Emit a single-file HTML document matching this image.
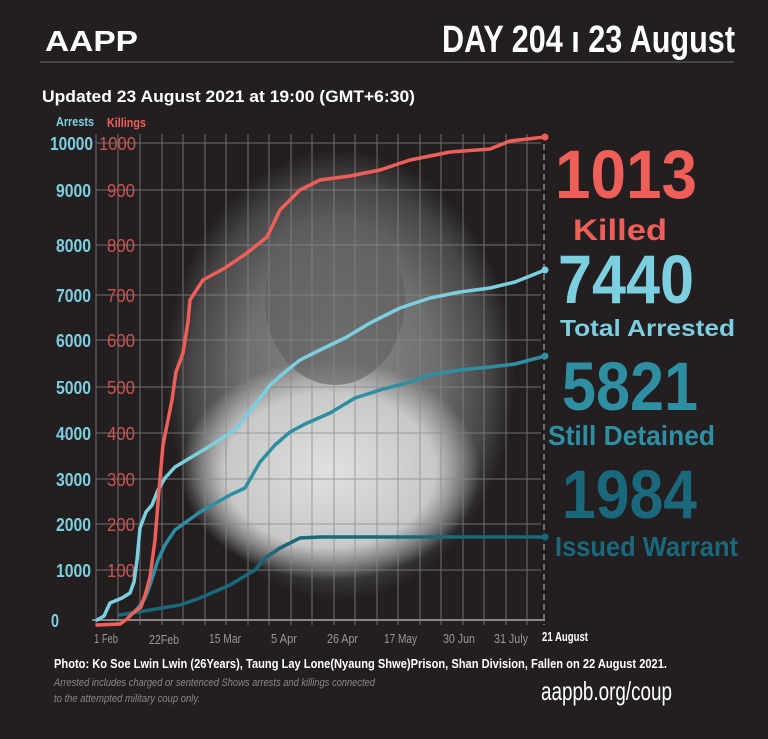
<!DOCTYPE html>
<html><head><meta charset="utf-8"><style>
html,body{margin:0;padding:0;background:#231f20;}
svg{display:block}
</style></head><body>
<svg width="768" height="739" viewBox="0 0 768 739" xmlns="http://www.w3.org/2000/svg" font-family="Liberation Sans, sans-serif">
<defs>
<radialGradient id="ph" cx="340" cy="375" r="1" gradientUnits="userSpaceOnUse" gradientTransform="translate(340 375) scale(175 225) translate(-340 -375)">
<stop offset="0" stop-color="#8a8a8a"/>
<stop offset="0.55" stop-color="#6f6f6f"/>
<stop offset="0.85" stop-color="#474545"/>
<stop offset="1" stop-color="#231f20"/>
</radialGradient>
<radialGradient id="sh" cx="330" cy="470" r="1" gradientUnits="userSpaceOnUse" gradientTransform="translate(330 470) scale(150 110) translate(-330 -470)">
<stop offset="0" stop-color="#e0e0e0"/>
<stop offset="0.7" stop-color="#c8c8c8"/>
<stop offset="1" stop-color="#c8c8c8" stop-opacity="0"/>
</radialGradient>
</defs>
<rect width="768" height="739" fill="#231f20"/>
<ellipse cx="340" cy="375" rx="175" ry="225" fill="url(#ph)"/>
<ellipse cx="330" cy="470" rx="150" ry="110" fill="url(#sh)"/>
<ellipse cx="335" cy="300" rx="70" ry="85" fill="#5e5e5e" opacity="0.6"/>
<!-- header -->
<text x="45" y="51" font-weight="bold" font-size="29" fill="#fff" textLength="93" lengthAdjust="spacingAndGlyphs">AAPP</text>
<text x="442" y="52" font-weight="bold" font-size="38" fill="#fff" textLength="293" lengthAdjust="spacingAndGlyphs">DAY 204 ı 23 August</text>
<line x1="40" y1="62" x2="734" y2="62" stroke="#6d6a6b" stroke-width="1"/>
<text x="42" y="102" font-weight="bold" font-size="17" fill="#fff" textLength="373" lengthAdjust="spacingAndGlyphs">Updated 23 August 2021 at 19:00 (GMT+6:30)</text>
<text x="56" y="126" font-weight="bold" font-size="13" fill="#7ccfdf" textLength="38" lengthAdjust="spacingAndGlyphs">Arrests</text>
<text x="107" y="127" font-weight="bold" font-size="13" fill="#ee5f5a" textLength="39" lengthAdjust="spacingAndGlyphs">Killings</text>
<!-- grid -->
<g stroke="#8a8788" stroke-width="1" opacity="0.75">
<line x1="96" y1="134" x2="96" y2="625"/><line x1="118" y1="134" x2="118" y2="625"/><line x1="140" y1="134" x2="140" y2="625"/><line x1="162" y1="134" x2="162" y2="625"/><line x1="183" y1="134" x2="183" y2="625"/><line x1="205" y1="134" x2="205" y2="625"/><line x1="226" y1="134" x2="226" y2="625"/><line x1="248" y1="134" x2="248" y2="625"/><line x1="269" y1="134" x2="269" y2="625"/><line x1="291" y1="134" x2="291" y2="625"/><line x1="312" y1="134" x2="312" y2="625"/><line x1="334" y1="134" x2="334" y2="625"/><line x1="355" y1="134" x2="355" y2="625"/><line x1="377" y1="134" x2="377" y2="625"/><line x1="398" y1="134" x2="398" y2="625"/><line x1="420" y1="134" x2="420" y2="625"/><line x1="441" y1="134" x2="441" y2="625"/><line x1="463" y1="134" x2="463" y2="625"/><line x1="484" y1="134" x2="484" y2="625"/><line x1="506" y1="134" x2="506" y2="625"/><line x1="527" y1="134" x2="527" y2="625"/>
<line x1="96" y1="143" x2="541" y2="143"/><line x1="96" y1="190" x2="541" y2="190"/><line x1="96" y1="245" x2="541" y2="245"/><line x1="96" y1="295" x2="541" y2="295"/><line x1="96" y1="340" x2="541" y2="340"/><line x1="96" y1="387" x2="541" y2="387"/><line x1="96" y1="433" x2="541" y2="433"/><line x1="96" y1="479" x2="541" y2="479"/><line x1="96" y1="524" x2="541" y2="524"/><line x1="96" y1="570" x2="541" y2="570"/>
</g>
<line x1="92" y1="620" x2="545" y2="620" stroke="#8a8788" stroke-width="2"/>
<line x1="544" y1="134" x2="544" y2="625" stroke="#8a8788" stroke-width="1.5" stroke-dasharray="6 4"/>
<!-- y labels -->
<g font-weight="bold" font-size="18" fill="#7ccfdf" lengthAdjust="spacingAndGlyphs">
<text x="50" y="150" textLength="43" lengthAdjust="spacingAndGlyphs">10000</text>
<text x="56" y="197" textLength="35" lengthAdjust="spacingAndGlyphs">9000</text>
<text x="56" y="252" textLength="35" lengthAdjust="spacingAndGlyphs">8000</text>
<text x="56" y="302" textLength="35" lengthAdjust="spacingAndGlyphs">7000</text>
<text x="56" y="347" textLength="35" lengthAdjust="spacingAndGlyphs">6000</text>
<text x="56" y="394" textLength="35" lengthAdjust="spacingAndGlyphs">5000</text>
<text x="56" y="440" textLength="35" lengthAdjust="spacingAndGlyphs">4000</text>
<text x="56" y="486" textLength="35" lengthAdjust="spacingAndGlyphs">3000</text>
<text x="56" y="531" textLength="35" lengthAdjust="spacingAndGlyphs">2000</text>
<text x="56" y="577" textLength="35" lengthAdjust="spacingAndGlyphs">1000</text>
<text x="51" y="627" textLength="8" lengthAdjust="spacingAndGlyphs">0</text>
</g>
<g font-size="18" fill="#c95550">
<text x="99" y="150" textLength="37" lengthAdjust="spacingAndGlyphs">1000</text>
<text x="107" y="197" textLength="28" lengthAdjust="spacingAndGlyphs">900</text>
<text x="107" y="252" textLength="28" lengthAdjust="spacingAndGlyphs">800</text>
<text x="107" y="302" textLength="28" lengthAdjust="spacingAndGlyphs">700</text>
<text x="107" y="347" textLength="28" lengthAdjust="spacingAndGlyphs">600</text>
<text x="107" y="394" textLength="28" lengthAdjust="spacingAndGlyphs">500</text>
<text x="107" y="440" textLength="28" lengthAdjust="spacingAndGlyphs">400</text>
<text x="107" y="486" textLength="28" lengthAdjust="spacingAndGlyphs">300</text>
<text x="107" y="531" textLength="28" lengthAdjust="spacingAndGlyphs">200</text>
<text x="107" y="577" textLength="28" lengthAdjust="spacingAndGlyphs">100</text>
</g>
<!-- x labels -->
<g font-size="13" fill="#9a9798">
<text x="94" y="643" textLength="24" lengthAdjust="spacingAndGlyphs">1 Feb</text>
<text x="149" y="644" textLength="30" lengthAdjust="spacingAndGlyphs">22Feb</text>
<text x="209" y="643" textLength="32" lengthAdjust="spacingAndGlyphs">15 Mar</text>
<text x="271" y="643" textLength="26" lengthAdjust="spacingAndGlyphs">5 Apr</text>
<text x="327" y="643" textLength="31" lengthAdjust="spacingAndGlyphs">26 Apr</text>
<text x="384" y="643" textLength="33" lengthAdjust="spacingAndGlyphs">17 May</text>
<text x="443" y="643" textLength="32" lengthAdjust="spacingAndGlyphs">30 Jun</text>
<text x="494" y="643" textLength="34" lengthAdjust="spacingAndGlyphs">31 July</text>
</g>
<text x="542" y="641" font-weight="bold" font-size="13" fill="#fff" textLength="46" lengthAdjust="spacingAndGlyphs">21 August</text>
<!-- series -->
<g fill="none" stroke-width="3.5" stroke-linejoin="round" stroke-linecap="round">
<polyline stroke="#19687c" points="120,615 150,610 180,605 200,598 230,585 255,570 265,558 280,548 300,538 320,537 545,537"/>
<polyline stroke="#2e8fa3" points="130,616 138,608 145,598 150,585 158,560 165,545 175,530 200,512 230,495 245,488 260,462 275,445 290,432 305,424 330,413 355,398 380,390 410,382 430,375 460,370 490,367 515,364 545,356"/>
<polyline stroke="#7ccfdf" points="97,620 104,616 110,603 122,598 130,593 134,582 137,560 140,528 146,512 152,505 158,490 165,478 175,467 190,458 210,446 235,430 255,405 270,385 285,372 300,360 320,350 345,338 370,323 400,308 430,298 460,292 490,288 515,282 545,270"/>
<polyline stroke="#ee5f5a" points="97,625 120,624 127,619 133,613 141,607 146,592 150,577 155,540 159,490 163,445 168,420 172,400 176,372 183,353 188,322 190,300 203,280 225,268 247,253 267,237 280,210 300,190 320,180 350,176 380,170 410,160 450,152 490,149 510,141 545,137"/>
</g>
<circle cx="545" cy="137" r="3.5" fill="#ee5f5a"/><circle cx="545" cy="270" r="3.5" fill="#7ccfdf"/><circle cx="545" cy="356" r="3.5" fill="#2e8fa3"/><circle cx="545" cy="537" r="3.5" fill="#19687c"/>
<!-- big numbers -->
<g font-weight="bold">
<text x="555" y="198" font-size="69" fill="#ee5f5a" textLength="142" lengthAdjust="spacingAndGlyphs">1013</text>
<text x="573" y="240" font-size="30" fill="#ee5f5a" textLength="94" lengthAdjust="spacingAndGlyphs">Killed</text>
<text x="558" y="303" font-size="69" fill="#7ccfdf" textLength="136" lengthAdjust="spacingAndGlyphs">7440</text>
<text x="560" y="336" font-size="23" fill="#7ccfdf" textLength="175" lengthAdjust="spacingAndGlyphs">Total Arrested</text>
<text x="562" y="410" font-size="69" fill="#2e8fa3" textLength="136" lengthAdjust="spacingAndGlyphs">5821</text>
<text x="548" y="445" font-size="28" fill="#2e8fa3" textLength="167" lengthAdjust="spacingAndGlyphs">Still Detained</text>
<text x="562" y="518" font-size="69" fill="#19687c" textLength="135" lengthAdjust="spacingAndGlyphs">1984</text>
<text x="555" y="556" font-size="28" fill="#19687c" textLength="183" lengthAdjust="spacingAndGlyphs">Issued Warrant</text>
</g>
<!-- footer -->
<text x="54" y="668" font-weight="bold" font-size="12.5" fill="#fff" textLength="613" lengthAdjust="spacingAndGlyphs">Photo:   Ko Soe Lwin Lwin (26Years), Taung Lay Lone(Nyaung Shwe)Prison, Shan Division, Fallen on 22 August 2021.</text>
<text x="54" y="686" font-style="italic" font-size="11" fill="#8a8788" textLength="321" lengthAdjust="spacingAndGlyphs">Arrested includes charged or sentenced Shows arrests and killings connected</text>
<text x="54" y="702" font-style="italic" font-size="11" fill="#8a8788" textLength="146" lengthAdjust="spacingAndGlyphs">to the attempted military coup only.</text>
<text x="541" y="700" font-size="26" fill="#fff" textLength="131" lengthAdjust="spacingAndGlyphs">aappb.org/coup</text>
</svg>
</body></html>
